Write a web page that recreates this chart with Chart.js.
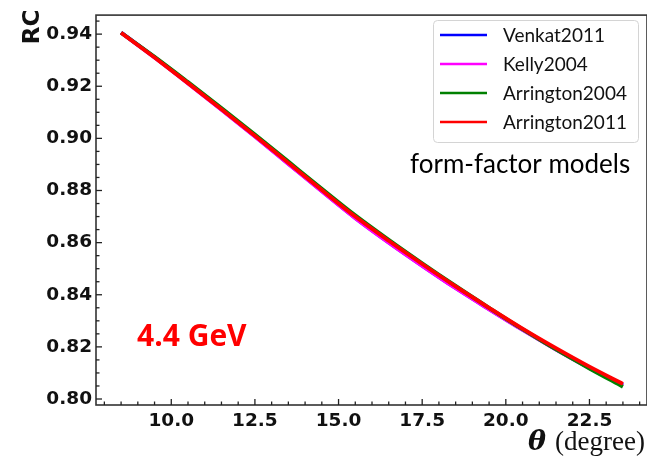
<!DOCTYPE html>
<html>
<head>
<meta charset="utf-8">
<script src="https://cdn.jsdelivr.net/npm/chart.js@4.4.0/dist/chart.umd.min.js"></script>
<style>
  html, body { margin: 0; padding: 0; background: #fff; }
  #wrap { width: 647px; height: 458px; }
</style>
</head>
<body>
<div id="wrap"><canvas id="rcChart" width="647" height="458"></canvas></div>
<script>
// scattering angle (degree)
const theta = [8.5, 9.5, 10.5, 11.5, 12.5, 13.5, 14.5, 15.5, 16.5, 17.5, 18.5, 19.5, 20.5, 21.5, 22.5, 23.5];

// radiative correction per form-factor model
const venkat2011 = [0.9406, 0.9311, 0.9212, 0.9111, 0.9008, 0.8903, 0.8798, 0.8695, 0.8601, 0.8512, 0.8426, 0.8345, 0.8266, 0.8191, 0.8120, 0.8053];
const kelly2004 = [0.9405, 0.9310, 0.9211, 0.9110, 0.9007, 0.8902, 0.8797, 0.8694, 0.8600, 0.8511, 0.8425, 0.8344, 0.8265, 0.8190, 0.8119, 0.8052];
const arrington2004 = [0.9405, 0.9313, 0.9216, 0.9117, 0.9015, 0.8911, 0.8807, 0.8705, 0.8611, 0.8521, 0.8434, 0.8350, 0.8268, 0.8190, 0.8117, 0.8047];
const arrington2011 = [0.9405, 0.9310, 0.9212, 0.9112, 0.9010, 0.8906, 0.8802, 0.8700, 0.8607, 0.8518, 0.8432, 0.8350, 0.8270, 0.8195, 0.8124, 0.8058];

const seriesNames = ["Venkat2011", "Kelly2004", "Arrington2004", "Arrington2011"];
const seriesColors = ["#0000ff", "#ff00ff", "#008000", "#ff0000"];
const yTickStep = 0.02;
const xTickStep = 2.5;

const allSeries = [venkat2011, kelly2004, arrington2004, arrington2011];

function toPoints(ys) {
    return theta.map((t, i) => ({ x: t, y: ys[i] }));
}

// inward matplotlib-like tick marks + frame
const frameTicks = {
    id: "frameTicks",
    afterDraw(chart) {
        const { ctx, chartArea: a, scales } = chart;
        ctx.save();
        ctx.strokeStyle = "#333";
        ctx.lineWidth = 1.6;
        ctx.strokeRect(a.left, a.top, a.right - a.left, a.bottom - a.top);

        ctx.lineWidth = 1.3;
        ctx.strokeStyle = "#222";
        // x ticks
        for (let v = 8; v <= 24.01; v += 0.5) {
            const px = scales.x.getPixelForValue(v);
            const major = Math.abs(v / xTickStep - Math.round(v / xTickStep)) < 1e-6;
            const len = major ? 6 : 3.5;
            ctx.beginPath();
            ctx.moveTo(px, a.bottom);
            ctx.lineTo(px, a.bottom - len);
            ctx.stroke();
        }
        // y ticks
        for (let v = 0.80; v <= 0.9451; v += 0.005) {
            const py = scales.y.getPixelForValue(v);
            const major = Math.abs(v / yTickStep - Math.round(v / yTickStep)) < 1e-6;
            const len = major ? 6 : 3.5;
            ctx.beginPath();
            ctx.moveTo(a.left, py);
            ctx.lineTo(a.left + len, py);
            ctx.stroke();
        }
        ctx.restore();
    }
};

// legend box, annotations and axis titles
const annotations = {
    id: "annotations",
    afterDraw(chart) {
        const { ctx } = chart;
        ctx.save();

        // legend
        const bx = 433, by = 20, bw = 205, bh = 122;
        ctx.fillStyle = "rgba(255,255,255,0.85)";
        ctx.strokeStyle = "#d4d4d4";
        ctx.lineWidth = 1;
        ctx.beginPath();
        ctx.roundRect(bx + 0.5, by + 0.5, bw, bh, 4);
        ctx.fill();
        ctx.stroke();

        ctx.font = "19px Lato";
        ctx.textBaseline = "middle";
        ctx.textAlign = "left";
        chart.data.datasets.forEach((ds, i) => {
            const yy = 35 + i * 29;
            ctx.strokeStyle = ds.borderColor;
            ctx.lineWidth = 2.5;
            ctx.beginPath();
            ctx.moveTo(440, yy);
            ctx.lineTo(487, yy);
            ctx.stroke();
            ctx.fillStyle = "#111";
            ctx.fillText(ds.label, 503, yy + 1);
        });

        ctx.fillStyle = "#000";
        ctx.font = "26px Lato";
        ctx.textBaseline = "alphabetic";
        ctx.fillText("form-factor models", 410, 173);

        ctx.fillStyle = "#ff0000";
        ctx.font = "bold 30px 'Open Sans'";
        ctx.fillText("4.4 GeV", 137, 346);

        // y axis title
        ctx.save();
        ctx.translate(39, 27);
        ctx.rotate(-Math.PI / 2);
        ctx.fillStyle = "#111";
        ctx.font = "bold 23px 'DejaVu Sans'";
        ctx.textAlign = "center";
        ctx.fillText("RC", 0, 0);
        ctx.restore();

        // x axis title
        ctx.fillStyle = "#111";
        ctx.textAlign = "right";
        ctx.font = "27px 'Liberation Serif'";
        const rest = "(degree)";
        ctx.fillText(rest, 645, 450);
        const rw = ctx.measureText(rest).width;
        ctx.font = "italic bold 27px 'DejaVu Serif'";
        ctx.fillText("\u03B8", 645 - rw - 9, 450);

        ctx.restore();
    }
};

const ctx = document.getElementById("rcChart").getContext("2d");
const rcChart = new Chart(ctx, {
    type: "line",
    data: {
        datasets: allSeries.map((ys, i) => ({
            label: seriesNames[i],
            data: toPoints(ys),
            borderColor: seriesColors[i],
            backgroundColor: seriesColors[i],
            borderWidth: 3.8,
            pointRadius: 0,
            cubicInterpolationMode: "monotone",
            fill: false,
            order: allSeries.length - 1 - i,
        })),
    },
    options: {
        responsive: false,
        animation: false,
        devicePixelRatio: 1,
        layout: { padding: { top: 9, right: 0, left: 0, bottom: 0 } },
        plugins: {
            legend: { display: false },
            tooltip: { enabled: false },
        },
        scales: {
            x: {
                type: "linear",
                min: 7.75,
                max: 24.22,
                grid: { display: false, drawTicks: false },
                border: { display: false },
                ticks: {
                    stepSize: xTickStep,
                    includeBounds: false,
                    padding: 5,
                    color: "#111",
                    font: { family: "DejaVu Sans", weight: "bold", size: 18.5 },
                    callback: (v) => Number(v).toFixed(1),
                    maxRotation: 0,
                },
                afterFit: (s) => { s.height = 53; },
            },
            y: {
                min: 0.7977,
                max: 0.9473,
                grid: { display: false, drawTicks: false },
                border: { display: false },
                ticks: {
                    stepSize: yTickStep,
                    includeBounds: false,
                    padding: 4,
                    color: "#111",
                    font: { family: "DejaVu Sans", weight: "bold", size: 18.5 },
                    callback: (v) => Number(v).toFixed(2),
                },
                afterFit: (s) => { s.width = 96; },
            },
        },
    },
    plugins: [frameTicks, annotations],
});
</script>
</body>
</html>
